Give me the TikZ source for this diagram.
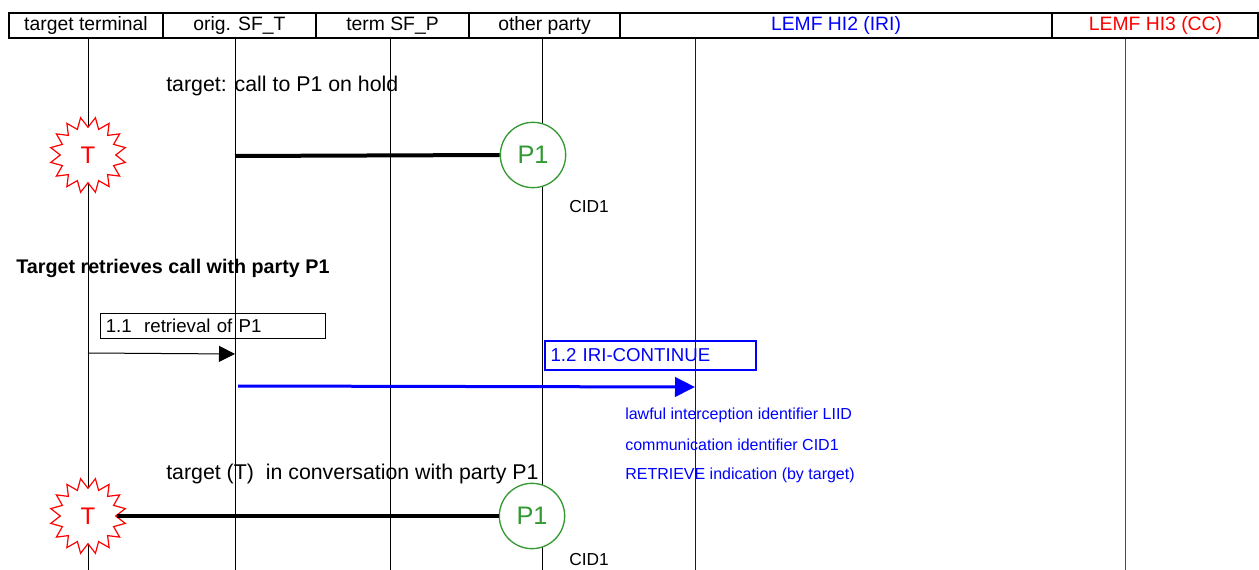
\documentclass[tikz,border=0pt]{standalone}
\usepackage{fontspec}
\setmainfont{Liberation Sans}
\usetikzlibrary{shapes.geometric,arrows.meta}
\definecolor{pgreen}{RGB}{51,153,51}
\begin{document}
\begin{tikzpicture}[x=0.75pt,y=-0.75pt,
  life/.style={line width=0.75pt},
  hdrline/.style={line width=1.5pt},
  hdr/.style={font=\fontsize{14.5}{16}\selectfont, inner sep=0pt},
  note/.style={font=\fontsize{16}{18}\selectfont, anchor=west, inner sep=0pt},
  cid/.style={font=\fontsize{13}{15}\selectfont, anchor=west, inner sep=0pt},
  iri/.style={font=\fontsize{12}{14}\selectfont, anchor=west, inner sep=0pt, text=blue},
  tstar/.style={star, star points=16, star point ratio=0.73, draw=red, fill=white, line width=0.9pt,
    minimum size=41.6pt, inner sep=0pt, text=red, font=\fontsize{18}{20}\selectfont},
  party/.style={circle, draw=pgreen, fill=white, line width=1pt, minimum size=49pt, inner sep=0pt,
    text=pgreen, font=\fontsize{19}{21}\selectfont},
  conn/.style={line width=3pt},
  msgbox/.style={draw, line width=0.75pt, font=\fontsize{14}{16}\selectfont, inner xsep=4pt,
    minimum height=18.75pt, align=left}
]
\useasboundingbox (0,0) rectangle (1259,570);

% lifeline coordinates
\coordinate (l1t) at (88,38);   \coordinate (l1b) at (88,572);
\coordinate (l2t) at (235,38);  \coordinate (l2b) at (235,572);
\coordinate (l3t) at (390,38);  \coordinate (l3b) at (390,572);
\coordinate (l4t) at (542,38);  \coordinate (l4b) at (542,572);
\coordinate (l5t) at (695,38);  \coordinate (l5b) at (695,572);
\coordinate (l6t) at (1125,38); \coordinate (l6b) at (1125,572);
\draw[life] (l1t) -- (l1b);
\draw[life] (l2t) -- (l2b);
\draw[life] (l3t) -- (l3b);
\draw[life] (l4t) -- (l4b);
\draw[life, blue] (l5t) -- (l5b);
\draw[life, red] (l6t) -- (l6b);

% header
\draw[hdrline] (9,13) rectangle (1258,38);
\foreach \x in {163,316,469,620,1052} \draw[hdrline] (\x,13) -- (\x,38);
\node[hdr] (h1) at (86,25.5) {target terminal};
\node[hdr] (h2) at (239.5,25.5) {orig. SF\_T};
\node[hdr] (h3) at (392.5,25.5) {term SF\_P};
\node[hdr] (h4) at (544.5,25.5) {other party};
\node[hdr, text=blue] (h5) at (836,25.5) {LEMF HI2 (IRI)};
\node[hdr, text=red] (h6) at (1155.5,25.5) {LEMF HI3 (CC)};

% first state
\node[note] (n1) at (166,86) {target: call to P1 on hold};
\node[tstar] (T1) at (88,155) {T};
\node[party] (P1a) at (533,155) {P1};
\coordinate (s1) at (235,156);
\draw[conn] (s1) -- (P1a.west);
\node[cid] (c1) at (569,207) {CID1};

% retrieval
\node[note, font=\bfseries\fontsize{14.8}{17}\selectfont] (n2) at (16,268) {Target retrieves call with party P1};
\node[msgbox, minimum width=168.75pt, text width=160pt] (m1) at (212.5,325.5) {1.1\ \ retrieval of P1};
\coordinate (a1s) at (88,353);
\coordinate (a1e) at (235,354);
\draw[line width=0.75pt, -{Triangle[length=12pt,width=12pt]}] (a1s) -- (a1e);

\node[msgbox, draw=blue, text=blue, line width=1.1pt, minimum width=158pt, text width=150pt,
  minimum height=21.75pt] (m2) at (650.5,355.5) {1.2 IRI-CONTINUE};
\coordinate (a2s) at (238,386);
\coordinate (a2e) at (695,387);
\draw[line width=2.25pt, blue, -{Triangle[length=15pt,width=14.5pt]}] (a2s) -- (a2e);
\node[iri] (i1) at (625,415) {lawful interception identifier LIID};
\node[iri] (i2) at (625,445) {communication identifier CID1};
\node[iri] (i3) at (625,475) {RETRIEVE indication (by target)};

% second state
\node[note] (n3) at (166,474) {target (T)\ \ in conversation with party P1};
\node[tstar] (T2) at (88,516) {T};
\node[party] (P1b) at (532,516) {P1};
\draw[conn] (T2.outer point 13) -- (P1b.west);
\node[cid] (c2) at (569,560) {CID1};
\end{tikzpicture}
\end{document}
